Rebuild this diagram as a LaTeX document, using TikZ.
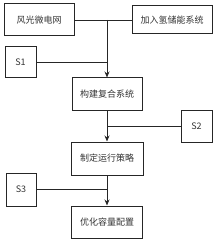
\documentclass[tikz,border=0pt]{standalone}
\usepackage{fontspec}
\setmainfont{Noto Sans CJK SC}
\usetikzlibrary{arrows.meta}
\begin{document}
\begin{tikzpicture}[x=1pt,y=-1pt,
  box/.style={draw=black!85,line width=1pt,inner sep=0pt,font=\fontsize{9}{10}\selectfont,text=black!80},
  conn/.style={draw=black!85,line width=0.9pt},
  arr/.style={conn,-{Stealth[length=6pt,width=5pt]}}]
\useasboundingbox (0,0) rectangle (217,243);
\node[box,minimum width=70pt,minimum height=32pt] (wg) at (39,20) {风光微电网};
\node[box,minimum width=80pt,minimum height=28pt] (h2) at (172,20) {加入氢储能系统};
\node[box,minimum width=31pt,minimum height=31pt] (s1) at (20.5,62.5) {S1};
\node[box,minimum width=70pt,minimum height=32pt] (fh) at (107,94) {构建复合系统};
\node[box,minimum width=31pt,minimum height=32pt] (s2) at (196.5,126) {S2};
\node[box,minimum width=72pt,minimum height=33pt] (cl) at (107,158.5) {制定运行策略};
\node[box,minimum width=30pt,minimum height=33pt] (s3) at (21,189.5) {S3};
\node[box,minimum width=71pt,minimum height=32pt] (yh) at (107,222) {优化容量配置};
\coordinate (j1) at (107,20);
\coordinate (j2) at (107,62.5);
\coordinate (j3) at (107,126);
\coordinate (j4) at (107,189.5);
\draw[conn] (wg.east) -- (h2.west);
\draw[arr] (j1) -- (fh.north);
\draw[conn] (s1.east) -- (j2);
\draw[arr] (fh.south) -- (cl.north);
\draw[conn] (s2.west) -- (j3);
\draw[arr] (cl.south) -- (yh.north);
\draw[conn] (s3.east) -- (j4);
\end{tikzpicture}
\end{document}
